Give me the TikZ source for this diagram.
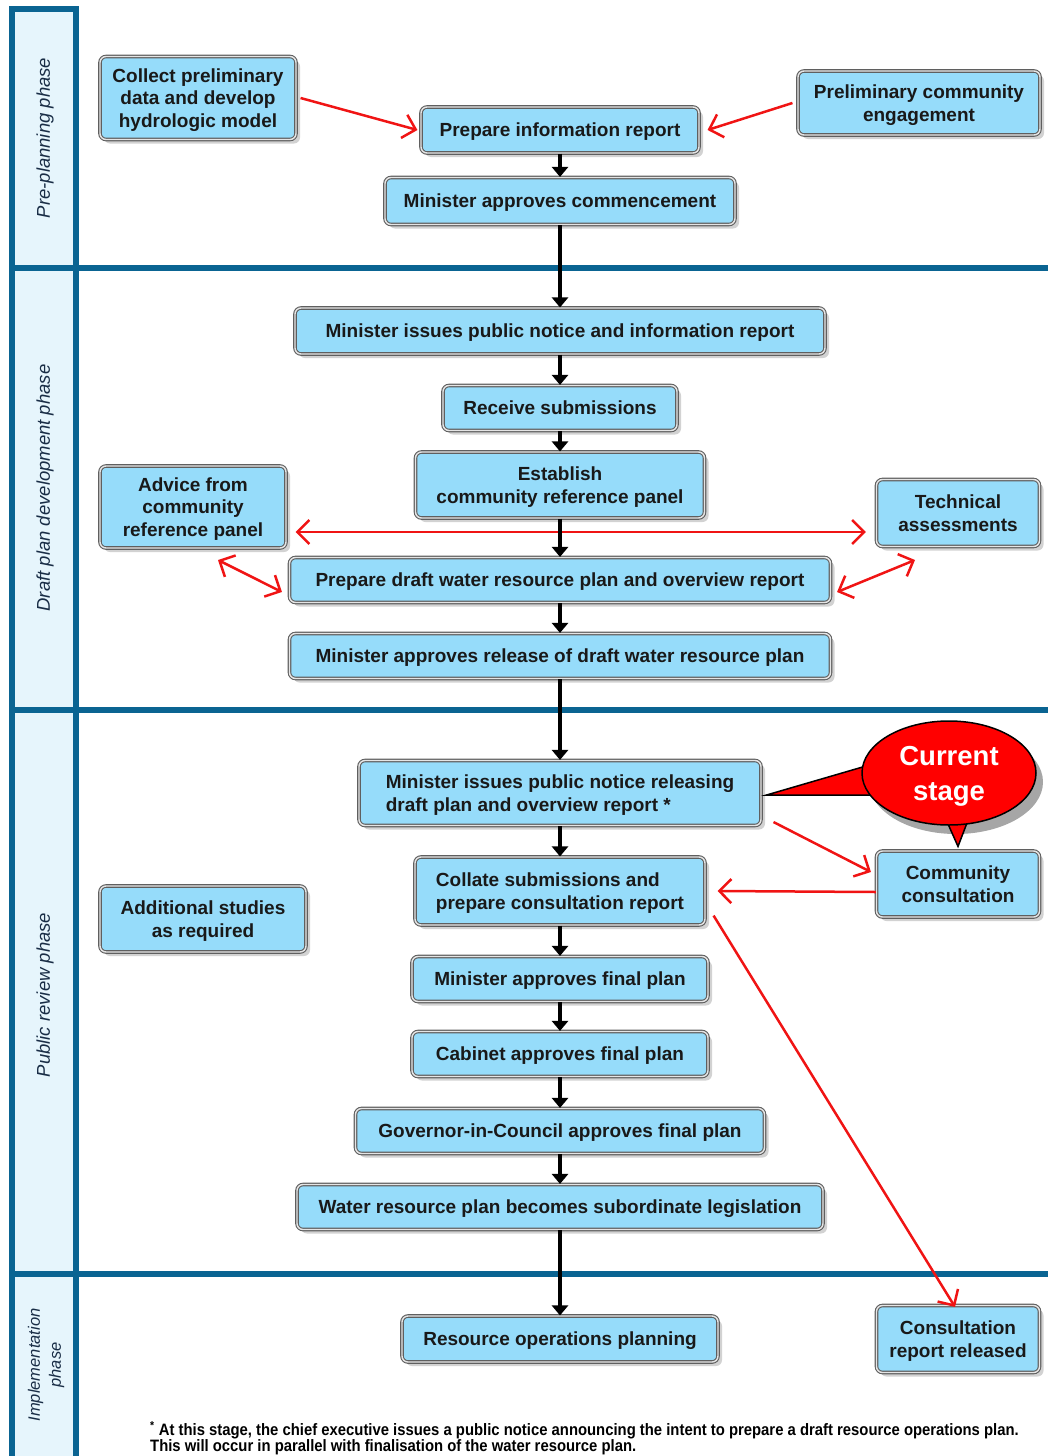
\documentclass[tikz,border=0pt]{standalone}
\usepackage{fontspec}
\setmainfont{Liberation Sans}
\newfontfamily\narrowfont[FakeStretch=0.9]{Liberation Sans}
\usetikzlibrary{arrows.meta,shapes.geometric,shadows}
\definecolor{phaseblue}{RGB}{10,100,146}
\definecolor{phasefill}{RGB}{230,245,252}
\definecolor{phasetext}{RGB}{25,45,70}
\definecolor{boxfill}{RGB}{150,220,250}
\definecolor{boxedge}{RGB}{95,95,95}
\definecolor{arrred}{RGB}{240,20,20}
\tikzset{
	stepbox/.style={draw=boxedge, double=black!10, double distance=1.4pt, line width=1.1pt,
		rounded corners=6pt, fill=boxfill, text=black!90, inner sep=0pt, align=center, text depth=0pt,
		font=\fontsize{19}{22.5}\selectfont\bfseries,
		drop shadow={shadow xshift=4pt, shadow yshift=-4pt, fill=black!35}},
	phaselabel/.style={rotate=90, text=phasetext, font=\fontsize{18.5}{21}\selectfont\itshape},
	phaseline/.style={phaseblue, line width=6.5pt},
	flowarr/.style={-{Triangle[width=16pt,length=10pt]}, line width=3.5pt, black},
	redarr/.style={arrred, line width=2.5pt, >={Straight Barb[length=12pt,width=24pt]}, ->},
}
\begin{document}
\begin{tikzpicture}[x=1pt,y=-1pt]
	\useasboundingbox (0,0) rectangle (1048,1456);
	% phase column
	\fill[phasefill] (12,9) rectangle (76,1456);
	\draw[phaseline] (12,6) -- (12,1456);
	\draw[phaseline] (76,6) -- (76,1456);
	\draw[phaseline] (9,9) -- (79,9);
	\draw[phaseline] (9,268) -- (1048,268);
	\draw[phaseline] (9,710) -- (1048,710);
	\draw[phaseline] (9,1274) -- (1048,1274);
	\node[phaselabel] (prephase) at (45,138) {Pre-planning phase};
	\node[phaselabel] (draftphase) at (45,488) {Draft plan development phase};
	\node[phaselabel] (reviewphase) at (45,995) {Public review phase};
	\node[phaselabel, align=center, font=\fontsize{16.5}{21}\selectfont\itshape] (implphase) at (46,1365) {Implementation\\phase};

	% steps
	\node[stepbox, minimum width=196pt, minimum height=83pt] (collect) at (198,98) {Collect preliminary\\data and develop\\hydrologic model};
	\node[stepbox, minimum width=278pt, minimum height=46pt] (prepinfo) at (560,130) {Prepare information report};
	\node[stepbox, minimum width=242pt, minimum height=64pt] (prelim) at (919,103) {Preliminary community\\engagement};
	\node[stepbox, minimum width=350pt, minimum height=47pt] (mincomm) at (560,201) {Minister approves commencement};
	\node[stepbox, minimum width=530pt, minimum height=46pt] (pubnotice) at (560,331) {Minister issues public notice and information report};
	\node[stepbox, minimum width=234pt, minimum height=45pt] (receive) at (560,408) {Receive submissions};
	\node[stepbox, minimum width=289pt, minimum height=66pt] (establish) at (560,485) {Establish\\community reference panel};
	\node[stepbox, minimum width=186pt, minimum height=82pt] (advice) at (193,507) {Advice from\\community\\reference panel};
	\node[stepbox, minimum width=163pt, minimum height=67pt] (technical) at (958,513) {Technical\\assessments};
	\node[stepbox, minimum width=541pt, minimum height=45pt] (prepdraft) at (560,580) {Prepare draft water resource plan and overview report};
	\node[stepbox, minimum width=541pt, minimum height=45pt] (minrelease) at (560,656) {Minister approves release of draft water resource plan};
	\node[stepbox, minimum width=402pt, minimum height=65pt, align=left] (releasenotice) at (560,793) {Minister issues public notice releasing\\draft plan and overview report *};
	\node[stepbox, minimum width=290pt, minimum height=68pt, align=left] (collate) at (560,891) {Collate submissions and\\prepare consultation report};
	\node[stepbox, minimum width=163pt, minimum height=66pt] (commcons) at (958,884) {Community\\consultation};
	\node[stepbox, minimum width=206pt, minimum height=66pt] (additional) at (203,919) {Additional studies\\as required};
	\node[stepbox, minimum width=296pt, minimum height=45pt] (minfinal) at (560,979) {Minister approves final plan};
	\node[stepbox, minimum width=296pt, minimum height=45pt] (cabinet) at (560,1054) {Cabinet approves final plan};
	\node[stepbox, minimum width=409pt, minimum height=45pt] (governor) at (560,1131) {Governor-in-Council approves final plan};
	\node[stepbox, minimum width=526pt, minimum height=45pt] (waterleg) at (560,1207) {Water resource plan becomes subordinate legislation};
	\node[stepbox, minimum width=316pt, minimum height=46pt] (resops) at (560,1339) {Resource operations planning};
	\node[stepbox, minimum width=163pt, minimum height=67pt] (consrep) at (958,1339) {Consultation\\report released};

	% red links
	\coordinate (midline) at (560,532);
	\coordinate (advcorner) at (218,560);
	\coordinate (techcorner) at (915,560);
	\draw[redarr] ([xshift=4pt]collect.east) -- ([xshift=-3pt]prepinfo.west);
	\draw[redarr] ([xshift=-5pt]prelim.west) -- ([xshift=8pt]prepinfo.east);
	\draw[redarr,<->] ([xshift=9pt]advice.east |- midline) -- ([xshift=-10pt]technical.west |- midline);
	\draw[redarr,<->] (advcorner) -- ([shift={(-7pt,-12pt)}]prepdraft.west);
	\draw[redarr,<->] ([shift={(6pt,-12pt)}]prepdraft.east) -- (techcorner);
	\draw[redarr] ([shift={(12pt,4pt)}]releasenotice.south east) -- ([shift={(-5pt,12pt)}]commcons.west);
	\draw[redarr] ([yshift=-8pt]commcons.west) -- ([xshift=12pt]collate.east);
	\draw[redarr] ([shift={(8pt,10pt)}]collate.south east) -- ([shift={(-3pt,-2pt)}]consrep.north);

	% main flow
	\foreach \a/\b in {prepinfo/mincomm, mincomm/pubnotice, pubnotice/receive, receive/establish,
		establish/prepdraft, prepdraft/minrelease, minrelease/releasenotice, releasenotice/collate,
		collate/minfinal, minfinal/cabinet, cabinet/governor, governor/waterleg, waterleg/resops}
		\draw[flowarr] (\a.south) -- (\b.north);

	% current stage callout
	\coordinate (stagec) at (949,773);
	\fill[black!35] ([shift={(7pt,-9pt)}]stagec) ellipse [x radius=87pt, y radius=52pt];
	\filldraw[fill=red, draw=black, line width=1.5pt] ([xshift=5pt]releasenotice.east |- 0,795) -- (866,766) -- (872,795) -- cycle;
	\filldraw[fill=red, draw=black, line width=1.5pt] (944,815) -- ([yshift=4pt]commcons.north) -- (970,815) -- cycle;
	\node[ellipse, fill=red, draw=black, line width=1.5pt, minimum width=174pt, minimum height=104pt,
		text=white, align=center, inner sep=0pt, text depth=0pt, font=\fontsize{27.5}{35}\selectfont\bfseries] (stage) at (stagec) {Current\\stage};

	% footnote
	\node[anchor=north west, align=left, inner sep=0pt, font=\narrowfont\bfseries\fontsize{16.5}{16.5}\selectfont] (note) at (150,1421)
		{\textsuperscript{*} At this stage, the chief executive issues a public notice announcing the intent to prepare a draft resource operations plan.\\
		This will occur in parallel with finalisation of the water resource plan.};
\end{tikzpicture}
\end{document}
